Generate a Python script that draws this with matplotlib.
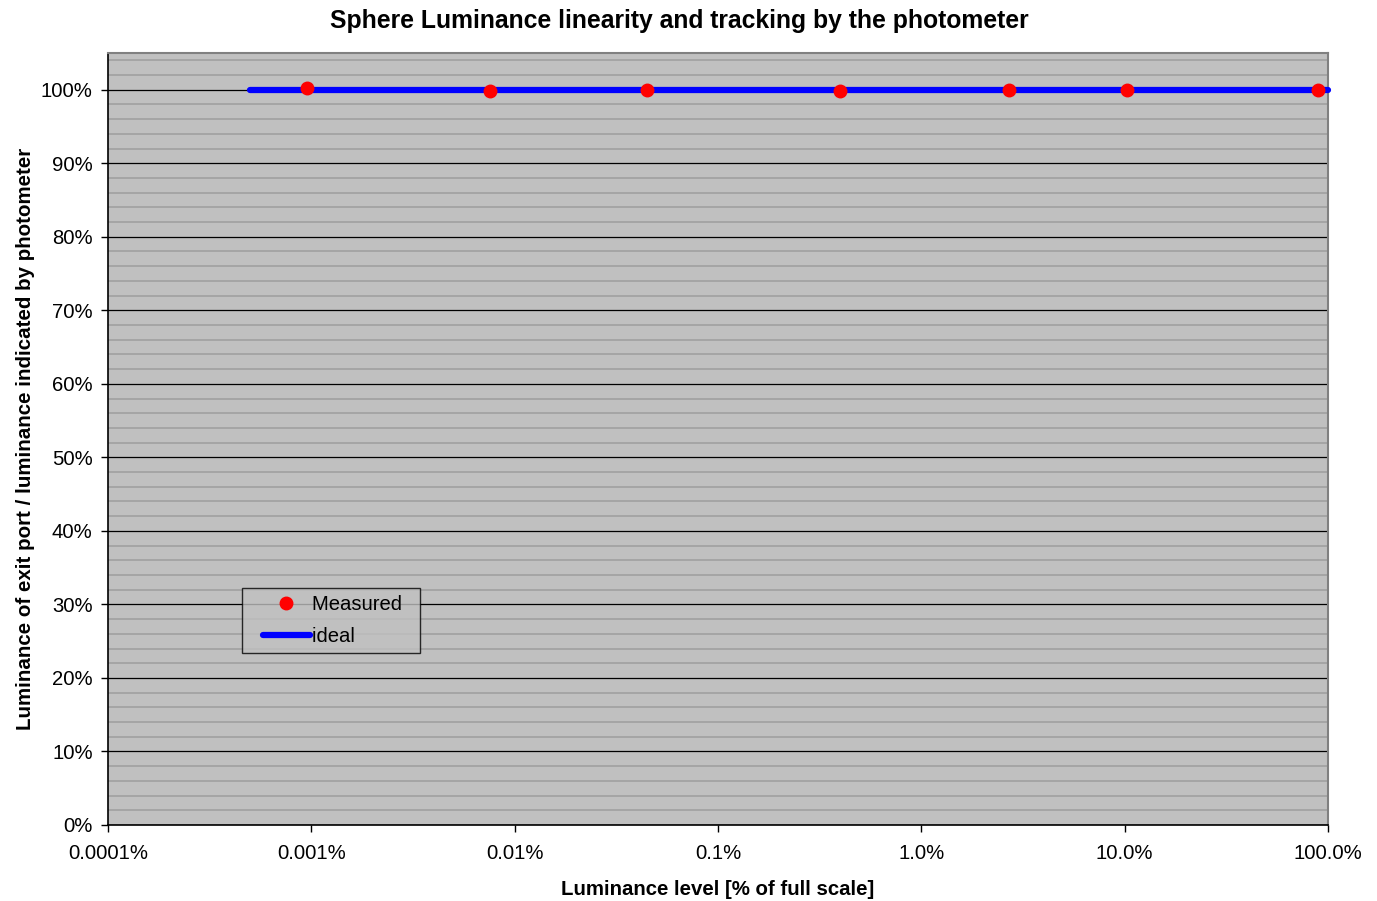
import numpy as np
import matplotlib
matplotlib.use('Agg')
import matplotlib.pyplot as plt
from matplotlib.lines import Line2D
from matplotlib.legend_handler import HandlerLine2D
from matplotlib.ticker import FixedLocator, FuncFormatter, MultipleLocator

plt.rcParams['font.family'] = ['Liberation Sans', 'DejaVu Sans']

# measured points (luminance level in % of full scale, ratio)
measured_x = [0.00095, 0.0076, 0.045, 0.40, 2.7, 10.3, 89.5]
measured_y = [1.003, 0.998, 1.000, 0.9985, 1.000, 1.000, 1.000]
# ideal line
ideal_x = [0.0005, 100.0]
ideal_y = [1.0, 1.0]

x_ticks = [0.0001, 0.001, 0.01, 0.1, 1.0, 10.0, 100.0]
x_labels = ['0.0001%', '0.001%', '0.01%', '0.1%', '1.0%', '10.0%', '100.0%']

fig = plt.figure(figsize=(13.77, 9.01), dpi=100)
ax = fig.add_axes([0.0784, 0.0844, 0.8860, 0.8568])
ax.set_facecolor('#c0c0c0')

ax.set_xscale('log')
ax.set_xlim(0.0001, 100)
ax.set_ylim(0, 1.05)

ax.yaxis.set_minor_locator(MultipleLocator(0.02))
ax.set_yticks([t / 10 for t in range(11)])
ax.yaxis.set_major_formatter(FuncFormatter(lambda v, p: '%d%%' % round(v * 100)))
ax.grid(which='minor', axis='y', color='#a0a0a0', linewidth=1.2)
ax.grid(which='major', axis='y', color='black', linewidth=0.9)
ax.set_axisbelow(True)

ax.xaxis.set_major_locator(FixedLocator(x_ticks))
ax.set_xticklabels(x_labels)
ax.xaxis.set_minor_locator(FixedLocator([]))

ax.tick_params(axis='both', which='major', direction='out', length=5, labelsize=14.6, width=1)
ax.tick_params(axis='y', which='minor', length=0)
ax.tick_params(axis='x', pad=9)
ax.tick_params(axis='y', pad=6)

for s in ['top', 'right']:
    ax.spines[s].set_color('#808080')
    ax.spines[s].set_linewidth(1.5)
for s in ['left', 'bottom']:
    ax.spines[s].set_color('black')
    ax.spines[s].set_linewidth(1.2)

ax.plot(ideal_x, ideal_y, color='#0000ff', linewidth=4.5, solid_capstyle='round',
        label='ideal', zorder=3, clip_on=False)
ax.plot(measured_x, measured_y, linestyle='none', marker='o', markersize=9,
        color='#ff0000', label='Measured', zorder=4, clip_on=False)

handles, labels = ax.get_legend_handles_labels()
labels = [l + '  ' for l in labels]
leg = ax.legend(handles[::-1], labels[::-1], loc='lower left', bbox_to_anchor=(0.1098, 0.2228),
                borderaxespad=0, fontsize=14.6, frameon=True, fancybox=False,
                facecolor='#c0c0c0', edgecolor='black', handlelength=3.0,
                handletextpad=0.1, borderpad=0.35, labelspacing=0.62,
                handler_map={Line2D: HandlerLine2D(xpad=0.69)})
leg.get_frame().set_linewidth(1.0)

fig.text(679 / 1377, 1 - 21 / 901, 'Sphere Luminance linearity and tracking by the photometer',
         fontsize=17.8, fontweight='bold', ha='center', va='center')
ax.set_xlabel('Luminance level [% of full scale]', fontsize=14.7, fontweight='bold', labelpad=12)
ax.set_ylabel('Luminance of exit port / luminance indicated by photometer',
              fontsize=14.8, fontweight='bold', labelpad=4)

fig.savefig('out.png', dpi=100)
